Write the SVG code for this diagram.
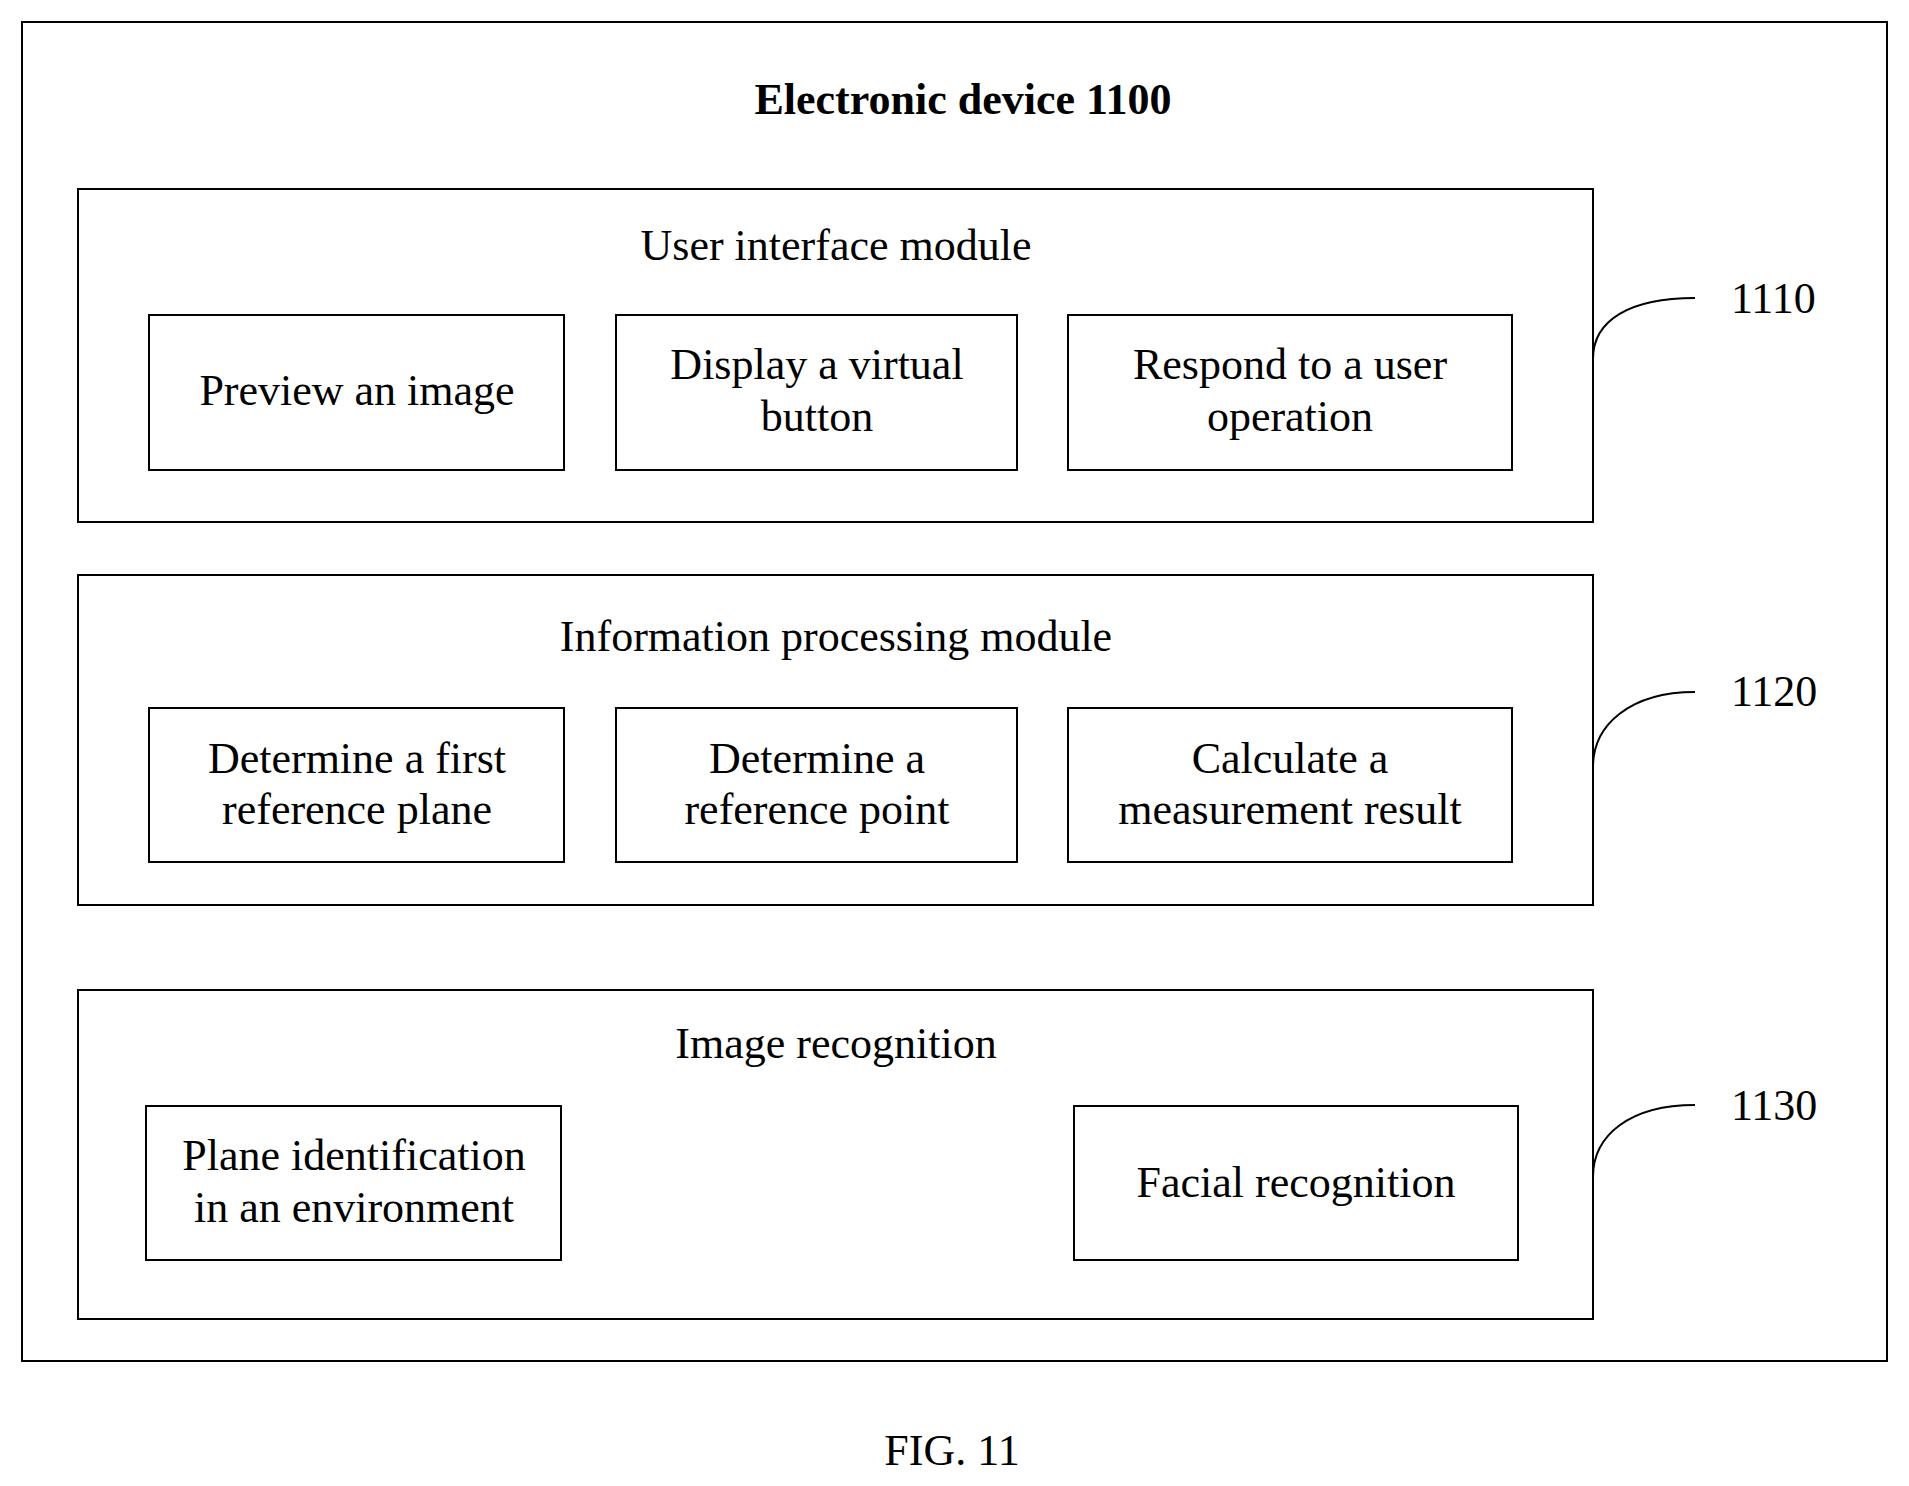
<svg xmlns="http://www.w3.org/2000/svg" width="1909" height="1486" viewBox="0 0 1909 1486">
<style>
.b{fill:none;stroke:#000;stroke-width:2}
.t{font-family:"Liberation Serif",serif;font-size:44px;text-anchor:middle;fill:#000}
.n{font-family:"Liberation Serif",serif;font-size:44px;fill:#000}
</style>
<rect width="1909" height="1486" fill="#fff"/>
<g id="device"><rect class="b" x="22" y="22" width="1865" height="1339"/>
<text class="t" x="963" y="114" font-weight="bold">Electronic device 1100</text></g>
<g id="m1110"><rect class="b" x="78" y="189" width="1515" height="333"/>
<text class="t" x="836" y="260">User interface module</text></g>
<g id="n1"><rect class="b" x="149" y="315" width="415" height="155"/><text class="t" x="357" y="405">Preview an image</text></g>
<g id="n2"><rect class="b" x="616" y="315" width="401" height="155"/><text class="t" x="817" y="379">Display a virtual</text><text class="t" x="817" y="431">button</text></g>
<g id="n3"><rect class="b" x="1068" y="315" width="444" height="155"/><text class="t" x="1290" y="379">Respond to a user</text><text class="t" x="1290" y="431">operation</text></g>
<g id="m1120"><rect class="b" x="78" y="575" width="1515" height="330"/>
<text class="t" x="836" y="651">Information processing module</text></g>
<g id="n4"><rect class="b" x="149" y="708" width="415" height="154"/><text class="t" x="357" y="773">Determine a first</text><text class="t" x="357" y="824">reference plane</text></g>
<g id="n5"><rect class="b" x="616" y="708" width="401" height="154"/><text class="t" x="817" y="773">Determine a</text><text class="t" x="817" y="824">reference point</text></g>
<g id="n6"><rect class="b" x="1068" y="708" width="444" height="154"/><text class="t" x="1290" y="773">Calculate a</text><text class="t" x="1290" y="824">measurement result</text></g>
<g id="m1130"><rect class="b" x="78" y="990" width="1515" height="329"/>
<text class="t" x="836" y="1058">Image recognition</text></g>
<g id="n7"><rect class="b" x="146" y="1106" width="415" height="154"/><text class="t" x="354" y="1170">Plane identification</text><text class="t" x="354" y="1222">in an environment</text></g>
<g id="n8"><rect class="b" x="1074" y="1106" width="444" height="154"/><text class="t" x="1296" y="1197">Facial recognition</text></g>
<g id="connectors">
<path class="b" d="M1593,359 C1593,320 1630,298 1695,298"/>
<path class="b" d="M1593,767 C1593,725 1630,692 1695,692"/>
<path class="b" d="M1593,1177 C1593,1135 1630,1105 1695,1105"/>
</g>
<text class="n" x="1731" y="313">1110</text>
<text class="n" x="1731" y="706">1120</text>
<text class="n" x="1731" y="1120">1130</text>
<text class="t" x="952" y="1465" font-size="48">FIG. 11</text>
</svg>
